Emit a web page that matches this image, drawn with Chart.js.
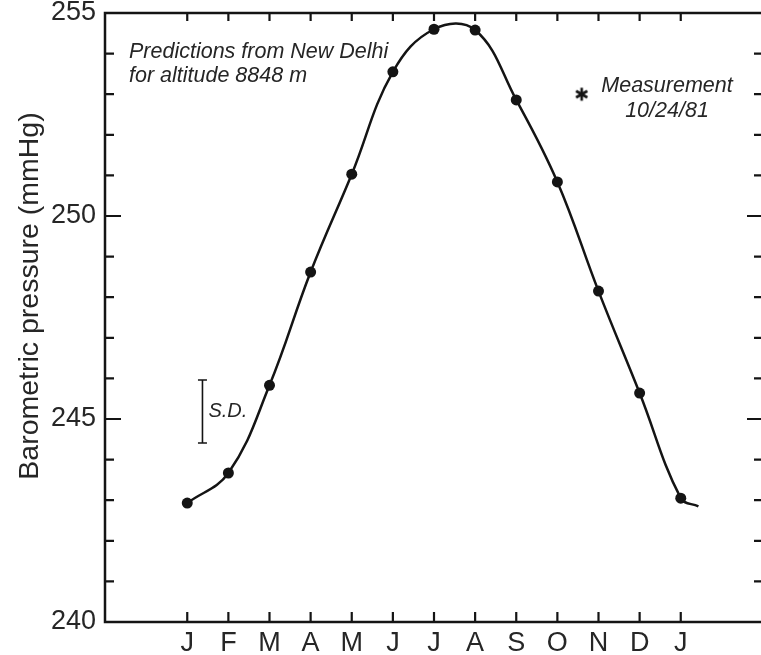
<!DOCTYPE html>
<html>
<head>
<meta charset="utf-8">
<script src="https://cdn.jsdelivr.net/npm/chart.js@4/dist/chart.umd.min.js"></script>
<style>
  html, body { margin: 0; padding: 0; background: #fff; overflow: hidden; }
  #wrap { position: relative; width: 761px; height: 655px; overflow: hidden; }
  #chart { position: absolute; left: 0; top: 0; }
</style>
</head>
<body>
<div id="wrap">
  <canvas id="chart" width="763" height="655"></canvas>
</div>
<script>
const MONTHS = ['J', 'F', 'M', 'A', 'M', 'J', 'J', 'A', 'S', 'O', 'N', 'D', 'J'];
const PRESSURE = [242.93, 243.67, 245.83, 248.62, 251.03, 253.55, 254.6, 254.58, 252.86, 250.84, 248.15, 245.64, 243.05];
const TAIL_X = [12.43];
const TAIL_Y = [242.85];
const MEASURE_X = [9.59];
const MEASURE_Y = [253.0];
const SD_X = 0.37;
const SD_RANGE = [244.41, 245.96];
const Y_TICKS = [240, 245, 250, 255];

const INK = '#141414';
const TEXT = '#262626';
const FONT = '"Liberation Sans", Arial, sans-serif';

const curvePoints = PRESSURE.map((y, i) => ({ x: i, y }))
  .concat(TAIL_X.map((x, i) => ({ x, y: TAIL_Y[i] })));
const measurePoints = MEASURE_X.map((x, i) => ({ x, y: MEASURE_Y[i] }));

// six-armed asterisk used as the point style of the measurement
function makeAsterisk() {
  const c = document.createElement('canvas');
  c.width = 16;
  c.height = 16;
  const g = c.getContext('2d');
  g.strokeStyle = INK;
  g.lineWidth = 2.6;
  g.translate(8, 8);
  for (let k = 0; k < 3; k++) {
    g.beginPath();
    g.moveTo(0, -6.5);
    g.lineTo(0, 6.5);
    g.stroke();
    g.rotate(Math.PI / 3);
  }
  return c;
}

// frame, inward ticks, S.D. bar and the notes
const framePlugin = {
  id: 'frame',
  afterDraw(chart) {
    const { ctx, chartArea: a, scales } = chart;
    const xs = scales.x;
    const ys = scales.y;
    ctx.save();
    ctx.strokeStyle = INK;
    ctx.lineWidth = 2.5;
    ctx.strokeRect(a.left, a.top, a.right - a.left, a.bottom - a.top);

    ctx.lineWidth = 2.2;
    ctx.beginPath();
    MONTHS.forEach((m, i) => {
      const px = xs.getPixelForValue(i);
      ctx.moveTo(px, a.bottom);
      ctx.lineTo(px, a.bottom - 10);
      ctx.moveTo(px, a.top);
      ctx.lineTo(px, a.top + 8);
    });
    for (let v = ys.min + 1; v < ys.max; v++) {
      const py = ys.getPixelForValue(v);
      const len = v % 5 === 0 ? 16 : 9;
      ctx.moveTo(a.left, py);
      ctx.lineTo(a.left + len, py);
      ctx.moveTo(a.right, py);
      ctx.lineTo(a.right - len, py);
    }
    ctx.stroke();

    // S.D. bar
    const sx = xs.getPixelForValue(SD_X);
    const sy1 = ys.getPixelForValue(SD_RANGE[0]);
    const sy2 = ys.getPixelForValue(SD_RANGE[1]);
    ctx.lineWidth = 1.6;
    ctx.beginPath();
    ctx.moveTo(sx, sy1);
    ctx.lineTo(sx, sy2);
    ctx.moveTo(sx - 4.5, sy1);
    ctx.lineTo(sx + 4.5, sy1);
    ctx.moveTo(sx - 4.5, sy2);
    ctx.lineTo(sx + 4.5, sy2);
    ctx.stroke();

    ctx.fillStyle = TEXT;
    ctx.textBaseline = 'alphabetic';
    ctx.font = 'italic 20px ' + FONT;
    ctx.textAlign = 'left';
    ctx.fillText('S.D.', sx + 6, 417);

    ctx.font = 'italic 21.5px ' + FONT;
    ctx.fillText('Predictions from New Delhi', 129, 58);
    ctx.fillText('for altitude 8848 m', 129, 82);
    ctx.textAlign = 'center';
    ctx.fillText('Measurement', 667, 92);
    ctx.fillText('10/24/81', 667, 117);

    // y axis title
    ctx.save();
    ctx.translate(38, 296);
    ctx.rotate(-Math.PI / 2);
    ctx.font = '28.5px ' + FONT;
    ctx.textAlign = 'center';
    ctx.textBaseline = 'alphabetic';
    ctx.fillText('Barometric pressure (mmHg)', 0, 0);
    ctx.restore();

    ctx.restore();
  }
};

new Chart(document.getElementById('chart'), {
  type: 'scatter',
  data: {
    datasets: [
      {
        data: curvePoints,
        showLine: true,
        tension: 0.4,
        borderColor: INK,
        borderWidth: 2.5,
        pointRadius: (c) => (c.dataIndex < PRESSURE.length ? 5.5 : 0),
        pointBackgroundColor: INK,
        pointBorderColor: INK,
        pointBorderWidth: 0
      },
      {
        data: measurePoints,
        showLine: false,
        pointStyle: makeAsterisk(),
        pointRadius: 8
      }
    ]
  },
  options: {
    responsive: false,
    animation: false,
    layout: { autoPadding: false, padding: { top: 13, right: 0, left: 0, bottom: 0 } },
    plugins: { legend: { display: false }, tooltip: { enabled: false } },
    scales: {
      x: {
        type: 'linear',
        min: -2,
        max: 14,
        grid: { display: false },
        border: { display: false },
        afterBuildTicks: (scale) => {
          scale.ticks = MONTHS.map((m, i) => ({ value: i }));
        },
        afterFit: (scale) => {
          scale.height = 33;
          scale.paddingLeft = 0;
          scale.paddingRight = 0;
        },
        ticks: {
          autoSkip: false,
          maxRotation: 0,
          padding: -3,
          color: TEXT,
          font: { family: FONT, size: 27 },
          callback: (v) => MONTHS[v]
        }
      },
      y: {
        min: 240,
        max: 255,
        grid: { display: false },
        border: { display: false },
        afterBuildTicks: (scale) => {
          scale.ticks = Y_TICKS.map((v) => ({ value: v }));
        },
        afterFit: (scale) => {
          scale.width = 105;
          scale.paddingTop = 0;
          scale.paddingBottom = 0;
        },
        ticks: {
          padding: 1,
          color: TEXT,
          font: { family: FONT, size: 27 }
        }
      }
    }
  },
  plugins: [framePlugin]
});
</script>
</body>
</html>
